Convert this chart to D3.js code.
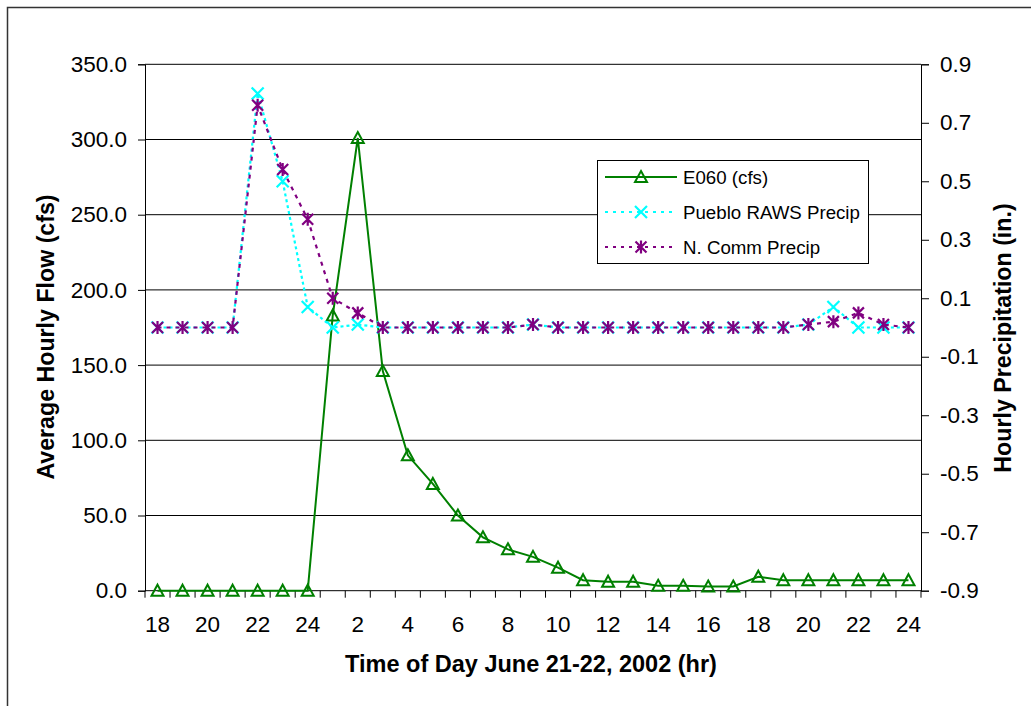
<!DOCTYPE html>
<html>
<head>
<meta charset="utf-8">
<script src="https://d3js.org/d3.v7.min.js"></script>
<style>
  html, body { margin: 0; padding: 0; background: #fff; }
  svg { display: block; font-family: "Liberation Sans", Arial, sans-serif; }
</style>
</head>
<body>
<svg id="chart" width="1031" height="706"></svg>
<script>
// ---- data ----
const hours = [18,19,20,21,22,23,24,1,2,3,4,5,6,7,8,9,10,11,12,13,14,15,16,17,18,19,20,21,22,23,24];
const flowE060 = [0,0,0,0,0,0,0,183,301,146,90,71,50,35.5,27.5,22.5,15.3,7,6,6,3.3,3.3,2.8,2.8,9.3,7,7,7,7,7,7];
const puebloPrecip = [0,0,0,0,0.80,0.50,0.07,0,0.01,0,0,0,0,0,0,0.01,0,0,0,0,0,0,0,0,0,0,0.01,0.07,0,0,0];
const nCommPrecip = [0,0,0,0,0.76,0.54,0.37,0.10,0.05,0,0,0,0,0,0,0.01,0,0,0,0,0,0,0,0,0,0,0.01,0.02,0.05,0.01,0];
const leftTicks = [0,50,100,150,200,250,300,350];
const rightTicks = [-0.9,-0.7,-0.5,-0.3,-0.1,0.1,0.3,0.5,0.7,0.9];
const seriesNames = ["E060 (cfs)", "Pueblo RAWS Precip", "N. Comm Precip"];

// ---- layout ----
const svg = d3.select("#chart");
const L = 145, R = 921, T = 64.3, B = 590.7;
const green = "#008000", cyan = "#00FFFF", purple = "#800080";
const fmt1 = v => d3.format(".1f")(v).replace("\u2212", "-");

svg.append("rect").attr("x", 7.5).attr("y", 7.5).attr("width", 1100).attr("height", 800)
  .attr("fill", "#fff").attr("stroke", "#333").attr("stroke-width", 1.5);

const idx = d3.range(hours.length);
const x = d3.scaleBand().domain(idx).range([L, R]).padding(0);
const cx = i => x(i) + x.bandwidth() / 2;
const yL = d3.scaleLinear().domain([0, 350]).range([B, T]);
const yR = d3.scaleLinear().domain([-0.9, 0.9]).range([B, T]);

// gridlines
svg.append("g").selectAll("line").data(leftTicks.filter(d => d > 0)).join("line")
  .attr("x1", L).attr("x2", R).attr("y1", d => yL(d)).attr("y2", d => yL(d))
  .attr("stroke", "#000").attr("stroke-width", 1);

// left axis
const gL = svg.append("g").attr("transform", `translate(${L},0)`)
  .call(d3.axisLeft(yL).tickValues(leftTicks).tickFormat(fmt1).tickSizeOuter(0).tickSize(7).tickPadding(11));
gL.selectAll("text").attr("font-size", 22.5).attr("fill", "#000").attr("font-family", "Liberation Sans, Arial, sans-serif");
gL.selectAll("line,path").attr("stroke", "#000");

// right axis
const gR = svg.append("g").attr("transform", `translate(${R},0)`)
  .call(d3.axisRight(yR).tickValues(rightTicks).tickFormat(fmt1).tickSizeOuter(0).tickSize(8).tickPadding(11));
gR.selectAll("text").attr("font-size", 22.5).attr("fill", "#000").attr("font-family", "Liberation Sans, Arial, sans-serif");
gR.selectAll("line,path").attr("stroke", "#000");

// bottom axis: ticks at band edges, labels every other category
const gB = svg.append("g");
gB.append("line").attr("x1", L).attr("x2", R).attr("y1", B).attr("y2", B).attr("stroke", "#000");
gB.selectAll("line.tk").data(d3.range(hours.length + 1)).join("line").attr("class", "tk")
  .attr("x1", i => i < hours.length ? x(i) : R).attr("x2", i => i < hours.length ? x(i) : R)
  .attr("y1", B).attr("y2", B + 7).attr("stroke", "#000");
gB.selectAll("text").data(idx.filter(i => i % 2 === 0)).join("text")
  .attr("x", cx).attr("y", 632).attr("text-anchor", "middle")
  .attr("font-size", 22.5).attr("fill", "#000").text(i => hours[i]);

// titles
svg.append("text").attr("x", 531).attr("y", 672).attr("text-anchor", "middle")
  .attr("font-size", 23.5).attr("font-weight", "bold").text("Time of Day June 21-22, 2002 (hr)");
svg.append("text").attr("transform", "translate(54,337) rotate(-90)").attr("text-anchor", "middle")
  .attr("font-size", 23.2).attr("font-weight", "bold").text("Average Hourly Flow (cfs)");
svg.append("text").attr("transform", "translate(1011,338) rotate(-90)").attr("text-anchor", "middle")
  .attr("font-size", 23.2).attr("font-weight", "bold").text("Hourly Precipitation (in.)");

// markers
function triangle(g, px, py) {
  g.append("path").attr("d", `M${px},${py-6} L${px+6},${py+5} L${px-6},${py+5} Z`)
    .attr("fill", "none").attr("stroke", green).attr("stroke-width", 2);
}
function xMark(g, px, py) {
  const s = 6;
  g.append("path").attr("d", `M${px-s},${py-s} L${px+s},${py+s} M${px+s},${py-s} L${px-s},${py+s}`)
    .attr("stroke", cyan).attr("stroke-width", 2.2).attr("fill", "none");
}
function star(g, px, py) {
  const s = 5.5;
  g.append("path").attr("d", `M${px-s},${py-s} L${px+s},${py+s} M${px+s},${py-s} L${px-s},${py+s} M${px},${py-s-1} L${px},${py+s+1}`)
    .attr("stroke", purple).attr("stroke-width", 2.2).attr("fill", "none");
}

// series
const plot = svg.append("g");
const lineL = d3.line().x((d, i) => cx(i)).y(d => yL(d));
const lineR = d3.line().x((d, i) => cx(i)).y(d => yR(d));

plot.append("path").datum(flowE060).attr("d", lineL).attr("fill", "none").attr("stroke", green).attr("stroke-width", 2);
flowE060.forEach((d, i) => triangle(plot, cx(i), yL(d)));

plot.append("path").datum(puebloPrecip).attr("d", lineR).attr("fill", "none").attr("stroke", cyan)
  .attr("stroke-width", 2.2).attr("stroke-dasharray", "3,3");
puebloPrecip.forEach((d, i) => xMark(plot, cx(i), yR(d)));

plot.append("path").datum(nCommPrecip).attr("d", lineR).attr("fill", "none").attr("stroke", purple)
  .attr("stroke-width", 2.2).attr("stroke-dasharray", "4,5");
nCommPrecip.forEach((d, i) => star(plot, cx(i), yR(d)));

// legend
const lg = svg.append("g");
lg.append("rect").attr("x", 597.5).attr("y", 160.5).attr("width", 271).attr("height", 103)
  .attr("fill", "#fff").attr("stroke", "#000").attr("stroke-width", 1);
const rows = [177, 212, 247];
const styles = [
  {c: green, dash: null, m: triangle},
  {c: cyan, dash: "3,5", m: xMark},
  {c: purple, dash: "3,5", m: star}
];
seriesNames.forEach((name, k) => {
  const yy = rows[k];
  lg.append("line").attr("x1", 605).attr("x2", 677).attr("y1", yy).attr("y2", yy)
    .attr("stroke", styles[k].c).attr("stroke-width", 2).attr("stroke-dasharray", styles[k].dash);
  styles[k].m(lg, 641, yy);
  lg.append("text").attr("x", 683).attr("y", yy + 6.5).attr("font-size", 18.7).attr("fill", "#000").text(name);
});
</script>
</body>
</html>
